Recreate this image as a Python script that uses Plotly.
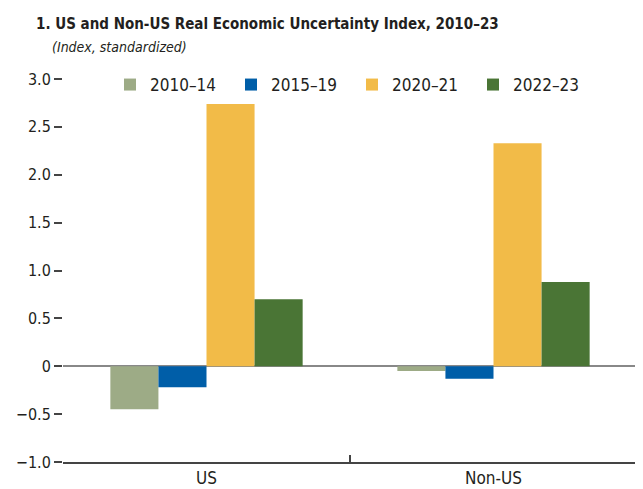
import plotly.graph_objects as go

# data
regions = ["US", "Non-US"]
periods = ["2010–14", "2015–19", "2020–21", "2022–23"]
vals_2010_14 = [-0.45, -0.05]
vals_2015_19 = [-0.22, -0.13]
vals_2020_21 = [2.74, 2.33]
vals_2022_23 = [0.70, 0.88]
colors = ["#9DAB86", "#005EA8", "#F2BB48", "#4A7535"]

ytick_vals = [-1.0, -0.5, 0, 0.5, 1.0, 1.5, 2.0, 2.5, 3.0]
ytick_text = ["−1.0", "−0.5", "0", "0.5", "1.0", "1.5", "2.0", "2.5", "3.0"]

FONT = "Liberation Sans Narrow, DejaVu Sans Condensed, sans-serif"
# the page body has an 8px margin, so the figure is drawn 8px smaller and shifted
OFF = 8
W, H = 643 - OFF, 489 - OFF
L, R, T, B = 63 - OFF, 6, 79 - OFF, 27
pw, ph = W - L - R, H - T - B

def px(xw):
  return (xw - OFF - L) / pw

def py(yw):
  return (H - B - (yw - OFF)) / ph

fig = go.Figure()
for name, vals, col in zip(periods, [vals_2010_14, vals_2015_19, vals_2020_21, vals_2022_23], colors):
  fig.add_trace(go.Bar(x=regions, y=vals, name=name, marker_color=col, marker_line_width=0))

fig.update_layout(
  width=W, height=H,
  margin=dict(l=L, r=R, t=T, b=B, autoexpand=False),
  paper_bgcolor="white", plot_bgcolor="white",
  font=dict(family=FONT, size=16, color="#231F20"),
  barmode="group", bargap=0.33, bargroupgap=0,
  showlegend=True,
  legend=dict(orientation="h", xref="container", yref="container",
              x=(110 - OFF)/W, y=1-(85 - OFF)/H, xanchor="left", yanchor="middle",
              font=dict(size=17), entrywidth=76, entrywidthmode="pixels",
              itemwidth=30, bgcolor="rgba(0,0,0,0)", traceorder="normal"),
)
# title and subtitle
fig.add_annotation(text="<b>1. US and Non-US Real Economic Uncertainty Index, 2010–23</b>",
                   xref="paper", yref="paper", x=px(34), y=py(24),
                   xanchor="left", yanchor="middle", showarrow=False,
                   font=dict(size=15))
fig.add_annotation(text="<i>(Index, standardized)</i>", xref="paper", yref="paper",
                   x=px(50), y=py(47), xanchor="left", yanchor="middle",
                   showarrow=False, font=dict(size=14))

fig.update_yaxes(range=[-1.0, 3.0], tickvals=ytick_vals, ticktext=ytick_text,
                 ticks="outside", ticklen=8, tickwidth=1.5, tickcolor="#444",
                 mirror="ticks", showline=False, showgrid=False, automargin=False,
                 zeroline=True, zerolinecolor="#888", zerolinewidth=1.5,
                 tickfont=dict(size=16))
fig.update_xaxes(showline=True, linecolor="#444", linewidth=1.5, automargin=False,
                 ticks="inside", tickson="boundaries", ticklen=7, tickwidth=1.5, tickcolor="#444",
                 showgrid=False, tickfont=dict(size=17))

fig.write_html("out.html")
